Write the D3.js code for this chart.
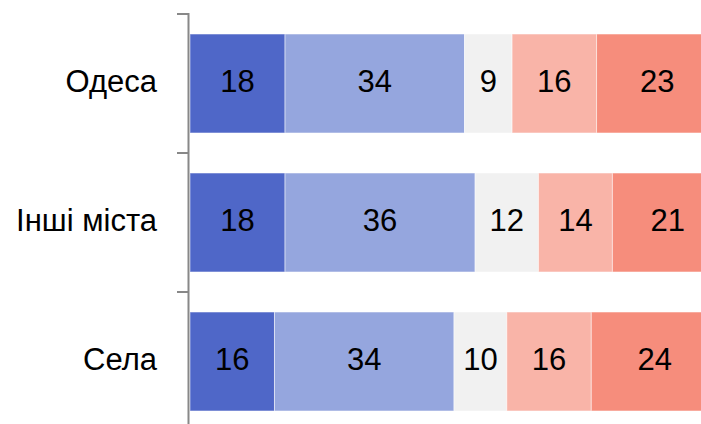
<!DOCTYPE html>
<html><head><meta charset="utf-8">
<script src="https://cdn.jsdelivr.net/npm/d3@7"></script>
<style>html,body{margin:0;padding:0;background:#fff;overflow:hidden}</style>
</head><body>
<svg id="c" width="701" height="424"></svg>
<script>
const categories = ["Одеса", "Інші міста", "Села"];
const seriesNames = ["s1", "s2", "s3", "s4", "s5"];
const s1 = [18, 18, 16];
const s2 = [34, 36, 34];
const s3 = [9, 12, 10];
const s4 = [16, 14, 16];
const s5 = [23, 21, 24];
const colors = ["#4f67c8", "#95a6de", "#f1f1f1", "#f9b4a8", "#f68d7c"];

const series = [s1, s2, s3, s4, s5];
const rows = categories.map((c, i) => {
  const r = {cat: c};
  seriesNames.forEach((s, j) => r[s] = series[j][i]);
  return r;
});
const stacked = d3.stack().keys(seriesNames)(rows);

const svg = d3.select("#c");
const x = d3.scaleLinear().domain([0, 100]).range([190, 718]);
const y = d3.scaleBand().domain(categories).range([14, 431]).paddingInner(0.288).paddingOuter(0.144);
const step = y.step();

const g = svg.append("g");
stacked.forEach((layer, j) => {
  g.selectAll(null).data(layer).enter().append("rect")
    .attr("x", d => x(d[0]))
    .attr("y", d => y(d.data.cat))
    .attr("width", d => x(d[1]) - x(d[0]))
    .attr("height", y.bandwidth())
    .attr("fill", colors[j])
    .attr("stroke", "#ffffff")
    .attr("stroke-opacity", 0.5)
    .attr("stroke-width", 1);
  g.selectAll(null).data(layer).enter().append("text")
    .attr("x", d => (x(d[0]) + x(d[1])) / 2)
    .attr("y", d => y(d.data.cat) + y.bandwidth() / 2 + 8.5)
    .attr("text-anchor", "middle")
    .attr("font-family", "Liberation Sans, Arial, sans-serif")
    .attr("font-size", 31)
    .attr("fill", "#000")
    .text(d => d3.format("d")(d[1] - d[0]));
});

// axis
const axisX = 188.5;
svg.append("line").attr("x1", axisX).attr("x2", axisX).attr("y1", 13).attr("y2", 424)
  .attr("stroke", "#888").attr("stroke-width", 2);
const boundaries = categories.map(c => y(c) - y.paddingOuter() * step);
svg.selectAll(null).data(boundaries).enter().append("line")
  .attr("x1", 177).attr("x2", axisX).attr("y1", d => d).attr("y2", d => d)
  .attr("stroke", "#888").attr("stroke-width", 2);
svg.selectAll(null).data(categories).enter().append("text")
  .attr("x", 157)
  .attr("y", d => y(d) + y.bandwidth() / 2 + 8.5)
  .attr("text-anchor", "end")
  .attr("font-family", "Liberation Sans, Arial, sans-serif")
  .attr("font-size", 31)
  .attr("fill", "#000")
  .text(d => d);
</script>
</body></html>
